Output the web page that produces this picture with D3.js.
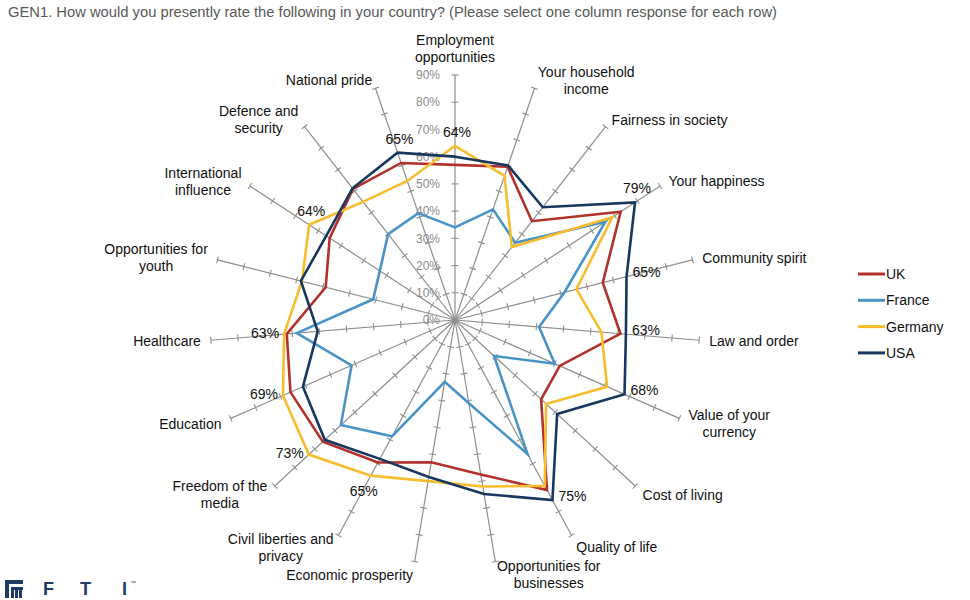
<!DOCTYPE html>
<html><head><meta charset="utf-8">
<script src="https://cdn.jsdelivr.net/npm/d3@7"></script>
<style>body{margin:0;background:#fff;} svg{display:block;font-family:Arial,"Liberation Sans",sans-serif;}</style>
</head><body>
<svg id="chart" width="970" height="600"></svg>
<script>
// ---------- DATA ----------
const categories = [
  "Employment\nopportunities", "Your household\nincome", "Fairness in society", "Your happiness",
  "Community spirit", "Law and order", "Value of your\ncurrency", "Cost of living", "Quality of life",
  "Opportunities for\nbusinesses", "Economic prosperity", "Civil liberties and\nprivacy",
  "Freedom of the\nmedia", "Education", "Healthcare", "Opportunities for\nyouth",
  "International\ninfluence", "Defence and\nsecurity", "National pride"
];
const seriesNames = ["UK", "France", "Germany", "USA"];
const ukValues      = [57, 59.5, 46, 72.7, 56, 61, 42, 43, 71, 57.5, 53, 59.5, 66, 66, 62, 49, 55, 61, 61];
const franceValues  = [34, 43, 36, 66, 41.5, 31, 40, 19.5, 56, 31, 23, 48.6, 57, 41.5, 58.3, 31, 33, 40, 41.5];
const germanyValues = [64, 56, 34, 69, 46, 54, 61, 45.5, 69.3, 62, 60, 65, 73, 69, 63, 58, 64, 55, 54];
const usaValues     = [60, 60, 52.5, 79, 65, 63, 68, 51, 75.2, 64.8, 58.5, 58, 65, 61, 50.6, 58.4, 56.5, 61.3, 65];
const tickValues = [0, 10, 20, 30, 40, 50, 60, 70, 80, 90];
const tickLabels = ["0%", "10%", "20%", "30%", "40%", "50%", "60%", "70%", "80%", "90%"];
// data labels shown: [series, category index]
const labelledPoints = [
  ["Germany", 0], ["USA", 3], ["USA", 4], ["USA", 5], ["USA", 6], ["USA", 8],
  ["Germany", 11], ["Germany", 12], ["Germany", 13], ["Germany", 14], ["Germany", 16], ["USA", 18]
];
// label placement keyword for each labelled point (Excel-style)
const labelPlacement = ["above", "above", "right", "right", "right", "right",
  "below", "left", "left", "left", "above", "above"];
const titleText = "GEN1. How would you presently rate the following in your country? (Please select one column response for each row)";

// ---------- SETUP ----------
const seriesValues = [ukValues, franceValues, germanyValues, usaValues];
const colors = d3.scaleOrdinal().domain(seriesNames).range(["#b3312b", "#4a93c7", "#f7bd2e", "#17375e"]);
const svg = d3.select("#chart");
const cx = 455, cy = 320, R = 245;
const r = d3.scaleLinear().domain([0, 90]).range([0, R]);
const n = categories.length;
const angle = d3.scaleLinear().domain([0, n]).range([0, 2 * Math.PI]);
const pt = (i, v) => [cx + Math.sin(angle(i)) * r(v), cy - Math.cos(angle(i)) * r(v)];

// title
svg.append("text").attr("x", 8).attr("y", 17).attr("fill", "#595959")
  .attr("font-size", 14).attr("textLength", 769).attr("lengthAdjust", "spacingAndGlyphs")
  .text(titleText);

const g = svg.append("g");
const axisColor = "#8f8f8f";

// axes
categories.forEach((c, i) => {
  const [x2, y2] = pt(i, 90);
  g.append("line").attr("x1", cx).attr("y1", cy).attr("x2", x2).attr("y2", y2)
    .attr("stroke", axisColor).attr("stroke-width", 1.2);
  const a = angle(i);
  const px = Math.cos(a), py = Math.sin(a);
  tickValues.filter(v => v > 0).forEach(v => {
    const [x, y] = pt(i, v);
    g.append("line").attr("x1", x - px * 3.5).attr("y1", y - py * 3.5)
      .attr("x2", x + px * 3.5).attr("y2", y + py * 3.5)
      .attr("stroke", axisColor).attr("stroke-width", 1.1);
  });
});

// tick labels
tickValues.forEach((v, k) => {
  g.append("text").attr("x", cx - 15).attr("y", cy - r(v)).attr("dy", "0.35em")
    .attr("text-anchor", "end").attr("font-size", 12).attr("fill", "#8c8c8c")
    .text(tickLabels[k]);
});

// category labels
const lh = 17;
categories.forEach((c, i) => {
  const a = angle(i);
  const s = Math.sin(a), co = Math.cos(a);
  const [ex, ey] = pt(i, 90);
  const lines = c.split("\n");
  const h = lines.length * lh;
  let anchor, x;
  if (Math.abs(s) < 0.05) { anchor = "middle"; x = ex; }
  else if (s > 0) { anchor = "start"; x = ex + 10 * Math.abs(s); }
  else { anchor = "end"; x = ex - 10 * Math.abs(s); }
  const k = (co > 0 ? 8.5 : 13.5) + (Math.abs(s) < 0.05 ? 18 : 0);
  const centerY = ey - co * k;
  const t = g.append("text").attr("font-size", 14).attr("fill", "#111");
  lines.forEach((ln, j) => {
    t.append("tspan").attr("y", centerY - h / 2 + lh * j + lh / 2).attr("dy", "0.35em").text(ln);
  });
  const widths = [];
  t.selectAll("tspan").each(function () { widths.push(this.getComputedTextLength()); });
  const bw = d3.max(widths);
  const left = anchor === "start" ? x : anchor === "end" ? x - bw : x - bw / 2;
  t.selectAll("tspan").attr("text-anchor", "middle").attr("x", left + bw / 2);
});

// series lines
const radial = d3.lineRadial().angle((d, i) => angle(i)).radius(d => r(d)).curve(d3.curveLinearClosed);
seriesNames.forEach((s, k) => {
  g.append("path").attr("transform", `translate(${cx},${cy})`)
    .attr("d", radial(seriesValues[k]))
    .attr("fill", "none").attr("stroke", colors(s)).attr("stroke-width", 2.6)
    .attr("stroke-linejoin", "miter");
});

// data labels
const placeOffset = { above: [2, -14], right: [20, -4], left: [-19, -1], below: [-7, 15] };
labelledPoints.forEach(([s, i], j) => {
  const v = seriesValues[seriesNames.indexOf(s)][i];
  const [x, y] = pt(i, v);
  const [ox, oy] = placeOffset[labelPlacement[j]];
  g.append("text").attr("x", x + ox).attr("y", y + oy).attr("dy", "0.35em")
    .attr("text-anchor", "middle").attr("font-size", 14).attr("fill", "#111")
    .text(Math.round(v) + "%");
});

// legend
const lg = svg.append("g").attr("transform", "translate(858,274)");
seriesNames.forEach((s, k) => {
  const row = lg.append("g").attr("transform", `translate(0,${k * 26.3})`);
  row.append("line").attr("x1", 0).attr("x2", 27).attr("y1", 0).attr("y2", 0)
    .attr("stroke", colors(s)).attr("stroke-width", 3);
  row.append("text").attr("x", 28).attr("y", 0).attr("dy", "0.35em")
    .attr("font-size", 14).attr("fill", "#111").text(s);
});

// logo
const logo = svg.append("g").attr("fill", "#1f3b63");
logo.append("rect").attr("x", 5).attr("y", 580).attr("width", 18).attr("height", 4);
logo.append("rect").attr("x", 5).attr("y", 580).attr("width", 4).attr("height", 18);
logo.append("rect").attr("x", 11).attr("y", 587).attr("width", 12).attr("height", 3);
[11, 15, 19].forEach(x => logo.append("rect").attr("x", x).attr("y", 587).attr("width", 3).attr("height", 11));
[["F", 43], ["T", 80], ["I", 122]].forEach(([t, x]) => {
  logo.append("text").attr("x", x).attr("y", 595).attr("font-size", 18).attr("font-weight", "bold").text(t);
});
logo.append("text").attr("x", 130).attr("y", 585).attr("font-size", 6).attr("fill", "#555").text("™");
</script>
</body></html>
